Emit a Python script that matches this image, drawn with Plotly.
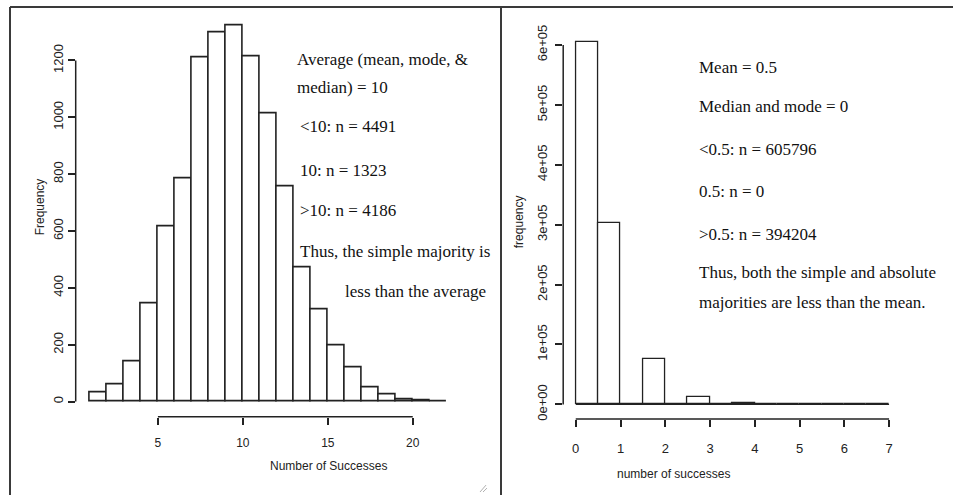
import plotly.graph_objects as go

# ---- data -------------------------------------------------------------
# Panel A: histogram of number of successes (unit-width bins 1..22)
succ_edges = list(range(1, 23))
succ_counts = [32, 62, 142, 345, 615, 785, 1210, 1300, 1323, 1215, 1012,
               756, 472, 324, 196, 120, 50, 25, 9, 5, 2]
succ_yticks = [0, 200, 400, 600, 800, 1000, 1200]
succ_xticks = [5, 10, 15, 20]

# Panel B: histogram of number of successes (half-width bins 0..7)
pois_edges = [i * 0.5 for i in range(15)]
pois_counts = [605796, 303400, 0, 75900, 0, 12950, 0, 1760, 0, 170, 0, 21, 0, 3]
pois_yticks = [0, 100000, 200000, 300000, 400000, 500000, 600000]
pois_ylabels = ["0e+00", "1e+05", "2e+05", "3e+05", "4e+05", "5e+05", "6e+05"]
pois_xticks = [0, 1, 2, 3, 4, 5, 6, 7]

notes_a = ["Average (mean, mode, &", "median) = 10", "<10: n = 4491",
           "10: n = 1323", ">10: n = 4186", "Thus, the simple majority is",
           "less than the average"]
notes_b = ["Mean = 0.5", "Median and mode = 0", "<0.5: n = 605796",
           "0.5: n = 0", ">0.5: n = 394204",
           "Thus, both the simple and absolute",
           "majorities are less than the mean."]

# ---- helpers ----------------------------------------------------------
W, H = 953, 497
INK = "#222222"
SANS = "Liberation Sans Narrow, Arial Narrow, Liberation Sans, Arial, sans-serif"
SERIF = "Liberation Serif, Times New Roman, serif"


def px_x(p):
    return p / W


def px_y(p):
    return 1 - p / H


def padded(lo, hi, frac=0.04):
    span = hi - lo
    return [lo - frac * span, hi + frac * span]


def hist_bars(edges, counts, xa, ya, lw):
    centers = [(a + b) / 2 for a, b in zip(edges[:-1], edges[1:])]
    widths = [b - a for a, b in zip(edges[:-1], edges[1:])]
    return go.Bar(x=centers, y=counts, width=widths, xaxis=xa, yaxis=ya,
                  marker=dict(color="white", line=dict(color=INK, width=lw)),
                  showlegend=False, hoverinfo="x+y")


fig = go.Figure()
fig.add_trace(hist_bars(succ_edges, succ_counts, "x", "y", 1.6))
fig.add_trace(hist_bars(pois_edges, pois_counts, "x2", "y2", 1.3))

common = dict(showgrid=False, zeroline=False, showline=False, ticks="outside",
              ticklen=7, tickwidth=1.5, tickcolor=INK)

fig.update_layout(
    width=W, height=H, margin=dict(l=0, r=0, t=0, b=0),
    paper_bgcolor="white", plot_bgcolor="white", bargap=0,
    xaxis=dict(domain=[px_x(75.7), px_x(461)],
               range=padded(succ_edges[0], succ_edges[-1]),
               tickvals=succ_xticks, anchor="y", ticklabelstandoff=8,
               tickfont=dict(family=SANS, size=12, color=INK), **common),
    yaxis=dict(domain=[px_y(418), px_y(8.5)],
               range=padded(0, max(succ_counts)),
               tickvals=succ_yticks, tickangle=-90, anchor="x",
               ticklabelstandoff=0,
               tickfont=dict(family=SANS, size=13, color=INK), **common),
    xaxis2=dict(domain=[px_x(563.2), px_x(901.6)],
                range=padded(pois_edges[0], pois_edges[-1]),
                tickvals=pois_xticks, anchor="y2", ticklabelstandoff=10,
                tickfont=dict(family=SANS, size=13, color=INK), **common),
    yaxis2=dict(domain=[px_y(420.3), px_y(25.2)],
                range=padded(0, max(pois_counts)),
                tickvals=pois_yticks, ticktext=pois_ylabels, tickangle=-90,
                anchor="x2", ticklabelstandoff=3,
                tickfont=dict(family=SANS, size=13, color=INK), **common),
)

line = dict(color=INK, width=1.5)
shapes = [
    # R-style axis lines spanning the first to last tick
    dict(type="line", xref="x domain", yref="y", x0=0, x1=0,
         y0=succ_yticks[0], y1=succ_yticks[-1], line=line),
    dict(type="line", xref="x", yref="y domain", x0=succ_xticks[0],
         x1=succ_xticks[-1], y0=0, y1=0, line=line),
    dict(type="line", xref="x2 domain", yref="y2", x0=0, x1=0,
         y0=pois_yticks[0], y1=pois_yticks[-1], line=line),
    dict(type="line", xref="x2", yref="y2 domain", x0=pois_xticks[0],
         x1=pois_xticks[-1], y0=0, y1=0, line=line),
    # baseline under empty bins
    dict(type="line", xref="x2", yref="y2", x0=pois_edges[0],
         x1=pois_edges[-1], y0=0, y1=0, line=dict(color=INK, width=1.2)),
    # window frame and divider
    dict(type="line", xref="paper", yref="paper", x0=px_x(10), x1=1,
         y0=px_y(5), y1=px_y(5), line=dict(color="#3a3a3a", width=2)),
    dict(type="line", xref="paper", yref="paper", x0=px_x(10), x1=px_x(10),
         y0=0, y1=px_y(5), line=dict(color="#3a3a3a", width=2)),
    dict(type="line", xref="paper", yref="paper", x0=px_x(501), x1=px_x(501),
         y0=0, y1=px_y(5), line=dict(color="#3a3a3a", width=2)),
    # resize grip
    dict(type="line", xref="paper", yref="paper", x0=px_x(480), x1=px_x(486),
         y0=px_y(494), y1=px_y(487), line=dict(color="#b0b0b0", width=1)),
    dict(type="line", xref="paper", yref="paper", x0=px_x(483), x1=px_x(487),
         y0=px_y(494), y1=px_y(490), line=dict(color="#b0b0b0", width=1)),
]
fig.update_layout(shapes=shapes)

ann = []
# axis titles
ann.append(dict(text="Frequency", xref="paper", yref="paper", x=px_x(31),
                y=px_y(207), textangle=-90, showarrow=False,
                font=dict(family=SANS, size=12, color=INK)))
ann.append(dict(text="Number of Successes", xref="paper", yref="paper",
                x=px_x(268), y=px_y(477), showarrow=False,
                font=dict(family=SANS, size=12, color=INK)))
ann.append(dict(text="frequency", xref="paper", yref="paper", x=px_x(519),
                y=px_y(222), textangle=-90, showarrow=False,
                font=dict(family=SANS, size=12, color=INK)))
ann.append(dict(text="number of successes", xref="paper", yref="paper",
                x=px_x(732), y=px_y(485), showarrow=False,
                font=dict(family=SANS, size=12, color=INK)))

# explanatory notes
note_font = dict(family=SERIF, size=17, color="#111")
a_pos = [(295, 58), (295, 86), (298, 126), (298, 170), (298, 210),
         (298, 252), (343, 292)]
for txt, (xx, yy) in zip(notes_a, a_pos):
    ann.append(dict(text=txt, xref="paper", yref="paper", x=px_x(xx),
                    y=px_y(yy), xanchor="left", yanchor="middle",
                    showarrow=False, font=note_font))
b_pos = [(697, 66), (697, 105), (697, 149), (697, 191), (697, 234),
         (697, 273), (697, 303)]
for txt, (xx, yy) in zip(notes_b, b_pos):
    ann.append(dict(text=txt, xref="paper", yref="paper", x=px_x(xx),
                    y=px_y(yy), xanchor="left", yanchor="middle",
                    showarrow=False, font=note_font))
fig.update_layout(annotations=ann)

fig.write_html("out.html")
